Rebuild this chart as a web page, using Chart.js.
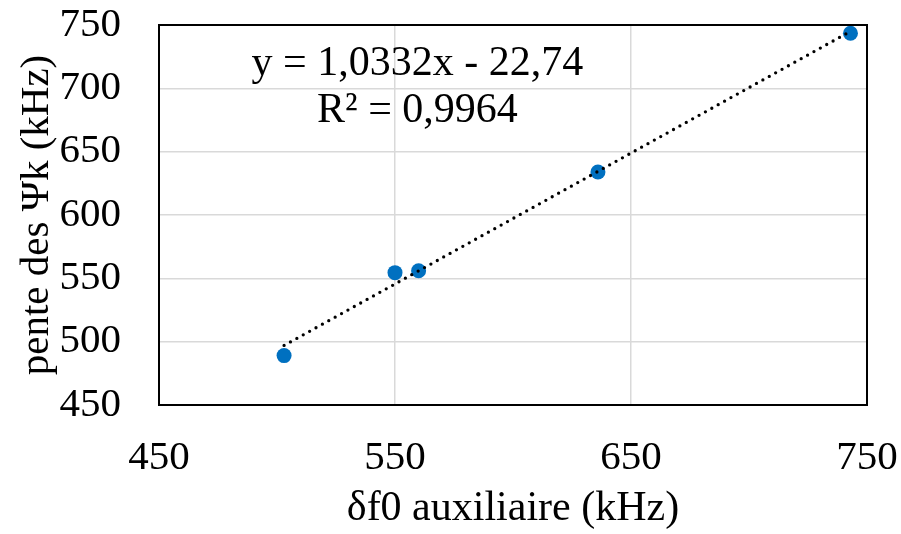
<!DOCTYPE html>
<html>
<head>
<meta charset="utf-8">
<script src="https://cdn.jsdelivr.net/npm/chart.js@4/dist/chart.umd.min.js"></script>
<style>
html,body{margin:0;padding:0;background:#fff;}
#wrap{width:901px;height:534px;position:relative;}
</style>
</head>
<body>
<div id="wrap"><canvas id="c" width="901" height="534"></canvas></div>
<script>
// Data
const xValues = [503, 550, 560, 636, 743];
const yValues = [489, 554.5, 556, 634, 743.5];
// Trendline end points (as shown)
const trendX = [503, 743];
const trendY = [497, 745];
const equationLines = ['y = 1,0332x - 22,74', 'R\u00B2 = 0,9964'];
const equationAnchor = {x: 559.5, y: [719.5, 682]};
const xTitle = '\u03B4f0 auxiliaire (kHz)';
const yTitle = 'pente des \u03A8k (kHz)';

const FONT = '"Liberation Serif", "Times New Roman", serif';

const points = xValues.map((x, i) => ({x, y: yValues[i]}));
const trend = trendX.map((x, i) => ({x, y: trendY[i]}));

const framePlugin = {
  id: 'frame',
  afterDatasetsDraw(chart) {
    const {ctx, chartArea: a, scales} = chart;
    ctx.save();
    ctx.strokeStyle = '#000';
    ctx.lineWidth = 2;
    ctx.strokeRect(a.left, a.top, a.right - a.left, a.bottom - a.top);
    ctx.fillStyle = '#000';
    ctx.font = '42px ' + FONT;
    ctx.textAlign = 'center';
    ctx.textBaseline = 'middle';
    const px = scales.x.getPixelForValue(equationAnchor.x);
    equationLines.forEach((t, i) => {
      ctx.fillText(t, px, scales.y.getPixelForValue(equationAnchor.y[i]));
    });
    ctx.restore();
  }
};

new Chart(document.getElementById('c'), {
  type: 'scatter',
  data: {
    datasets: [
      {
        label: 'trend',
        data: trend,
        showLine: true,
        borderColor: '#000',
        borderWidth: 3.3,
        borderDash: [0, 7.3],
        borderCapStyle: 'round',
        pointRadius: 0,
        order: 0
      },
      {
        label: 'points',
        data: points,
        backgroundColor: '#0070C0',
        borderColor: '#0070C0',
        pointRadius: 7.5,
        pointBorderWidth: 0,
        order: 1
      }
    ]
  },
  options: {
    responsive: false,
    animation: false,
    devicePixelRatio: 1,
    layout: {padding: {left: 0, right: 34, top: 25, bottom: 0}},
    plugins: {legend: {display: false}, tooltip: {enabled: false}},
    scales: {
      x: {
        type: 'linear',
        min: 450, max: 750,
        afterFit(s) { s.height = 129; },
        ticks: {stepSize: 100, color: '#000', font: {family: FONT, size: 41}, padding: 0},
        grid: {color: '#d9d9d9', lineWidth: 1.5, drawTicks: true, tickLength: 29, tickColor: 'rgba(0,0,0,0)'},
        border: {display: false},
        title: {display: true, text: xTitle, color: '#000', font: {family: FONT, size: 42}, padding: {top: 0, bottom: 0}}
      },
      y: {
        type: 'linear',
        min: 450, max: 750,
        afterFit(s) { s.width = 159; },
        ticks: {stepSize: 50, color: '#000', font: {family: FONT, size: 41}, padding: 0},
        grid: {color: '#d9d9d9', lineWidth: 1.5, drawTicks: true, tickLength: 38, tickColor: 'rgba(0,0,0,0)'},
        border: {display: false},
        title: {display: true, text: yTitle, color: '#000', font: {family: FONT, size: 41}, padding: {top: 13, bottom: 0}}
      }
    }
  },
  plugins: [framePlugin]
});
</script>
</body>
</html>
